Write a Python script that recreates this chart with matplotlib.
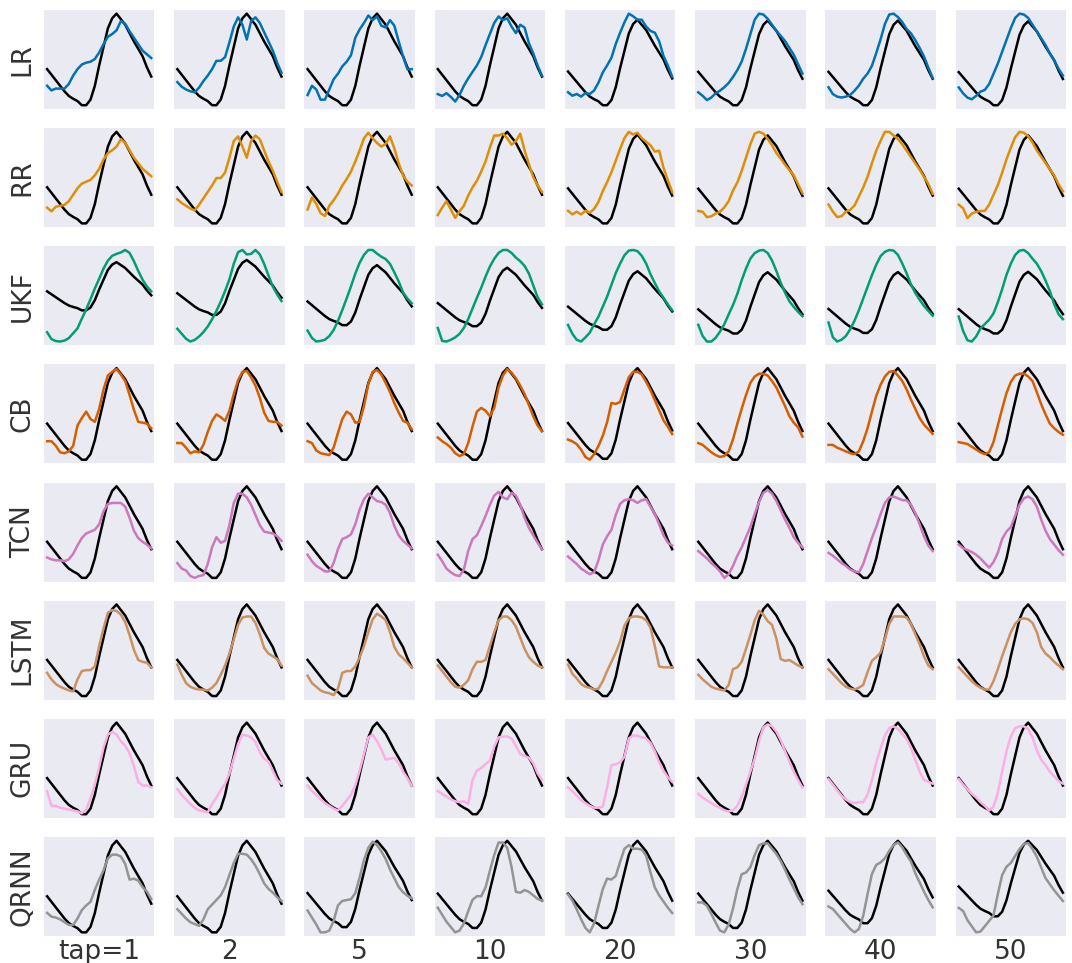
import matplotlib
matplotlib.use("Agg")
import matplotlib.pyplot as plt
import numpy as np

# ground truth waveform (same for every panel)
truth = [0.40, 0.34, 0.28, 0.22, 0.16, 0.11, 0.08, 0.055, 0.01, 0.01, 0.07, 0.22, 0.44,
         0.64, 0.84, 0.95, 1.00, 0.94, 0.88, 0.79, 0.70, 0.62, 0.54, 0.42, 0.32]

models = ["LR", "RR", "UKF", "CB", "TCN", "LSTM", "GRU", "QRNN"]
taps = ["tap=1", "2", "5", "10", "20", "30", "40", "50"]
colors = ["#0173b2", "#de8f05", "#029e73", "#d55e00",
          "#cc78bc", "#ca9161", "#fbafe4", "#949494"]

# predictions, one list per tap
lr = [
    [0.22, 0.17, 0.19, 0.19, 0.19, 0.24, 0.33, 0.40, 0.45, 0.47, 0.48, 0.51, 0.58, 0.67, 0.75, 0.78, 0.82, 0.92, 0.89, 0.81, 0.74, 0.67, 0.60, 0.56, 0.52],
    [0.26, 0.21, 0.18, 0.16, 0.15, 0.20, 0.27, 0.33, 0.40, 0.49, 0.49, 0.53, 0.69, 0.86, 0.96, 0.88, 0.72, 0.92, 0.96, 0.90, 0.80, 0.70, 0.60, 0.47, 0.36],
    [0.12, 0.22, 0.18, 0.07, 0.07, 0.18, 0.29, 0.35, 0.43, 0.48, 0.55, 0.74, 0.83, 0.90, 0.98, 0.93, 0.97, 0.87, 0.85, 0.93, 0.87, 0.70, 0.54, 0.40, 0.40],
    [0.13, 0.11, 0.14, 0.10, 0.05, 0.12, 0.22, 0.30, 0.37, 0.44, 0.53, 0.66, 0.78, 0.90, 0.97, 0.93, 0.95, 0.86, 0.79, 0.88, 0.85, 0.68, 0.57, 0.44, 0.33],
    [0.16, 0.12, 0.14, 0.11, 0.15, 0.14, 0.18, 0.27, 0.39, 0.47, 0.56, 0.72, 0.85, 0.97, 1.07, 1.04, 1.00, 1.00, 0.92, 0.87, 0.85, 0.75, 0.58, 0.47, 0.34],
    [0.16, 0.12, 0.07, 0.10, 0.15, 0.18, 0.22, 0.27, 0.34, 0.42, 0.52, 0.67, 0.84, 1.01, 1.08, 1.07, 1.02, 0.95, 0.88, 0.82, 0.76, 0.68, 0.60, 0.49, 0.38],
    [0.22, 0.14, 0.11, 0.10, 0.11, 0.13, 0.18, 0.24, 0.32, 0.38, 0.47, 0.62, 0.78, 0.96, 1.07, 1.08, 1.04, 0.98, 0.90, 0.85, 0.77, 0.68, 0.58, 0.45, 0.33],
    [0.22, 0.15, 0.10, 0.08, 0.12, 0.17, 0.19, 0.26, 0.38, 0.50, 0.64, 0.78, 0.92, 1.04, 1.09, 1.08, 1.04, 0.96, 0.88, 0.80, 0.72, 0.62, 0.54, 0.44, 0.36],
]
rr = [
    [0.18, 0.14, 0.19, 0.20, 0.21, 0.25, 0.32, 0.39, 0.44, 0.46, 0.48, 0.53, 0.60, 0.70, 0.77, 0.80, 0.84, 0.92, 0.88, 0.80, 0.72, 0.66, 0.60, 0.56, 0.52],
    [0.27, 0.23, 0.20, 0.17, 0.15, 0.21, 0.28, 0.35, 0.42, 0.50, 0.50, 0.56, 0.72, 0.90, 0.95, 0.84, 0.72, 0.90, 0.96, 0.92, 0.80, 0.68, 0.58, 0.46, 0.35],
    [0.16, 0.29, 0.22, 0.12, 0.09, 0.20, 0.26, 0.33, 0.42, 0.49, 0.57, 0.68, 0.80, 0.93, 0.99, 0.93, 0.88, 0.84, 0.87, 0.95, 0.82, 0.66, 0.53, 0.46, 0.42],
    [0.10, 0.18, 0.25, 0.16, 0.07, 0.14, 0.20, 0.31, 0.40, 0.47, 0.57, 0.68, 0.83, 0.96, 0.96, 0.98, 0.93, 0.86, 0.90, 0.98, 0.80, 0.65, 0.51, 0.42, 0.35],
    [0.15, 0.11, 0.14, 0.11, 0.15, 0.13, 0.17, 0.25, 0.37, 0.47, 0.58, 0.71, 0.84, 0.96, 1.03, 1.00, 1.02, 0.96, 0.92, 0.88, 0.81, 0.82, 0.63, 0.49, 0.36],
    [0.15, 0.14, 0.08, 0.09, 0.12, 0.14, 0.19, 0.26, 0.38, 0.47, 0.60, 0.75, 0.90, 1.02, 1.04, 1.02, 0.96, 0.89, 0.80, 0.74, 0.67, 0.61, 0.55, 0.45, 0.35],
    [0.22, 0.14, 0.08, 0.09, 0.14, 0.16, 0.21, 0.31, 0.41, 0.53, 0.68, 0.82, 0.93, 1.03, 1.03, 0.99, 0.95, 0.89, 0.82, 0.75, 0.68, 0.61, 0.53, 0.45, 0.34],
    [0.22, 0.18, 0.07, 0.12, 0.14, 0.15, 0.15, 0.22, 0.33, 0.44, 0.58, 0.73, 0.86, 0.98, 1.04, 1.03, 0.99, 0.92, 0.83, 0.76, 0.69, 0.62, 0.55, 0.45, 0.37],
]
ukf = [
    [-0.44, -0.58, -0.62, -0.63, -0.61, -0.56, -0.46, -0.36, -0.16, 0.03, 0.24, 0.46, 0.66, 0.87, 1.03, 1.13, 1.17, 1.20, 1.25, 1.19, 1.02, 0.82, 0.64, 0.50, 0.40],
    [-0.24, -0.33, -0.42, -0.47, -0.44, -0.38, -0.30, -0.20, -0.07, 0.08, 0.25, 0.44, 0.65, 0.93, 1.14, 1.18, 1.10, 1.11, 1.18, 1.10, 0.93, 0.72, 0.52, 0.38, 0.26],
    [-0.08, -0.20, -0.26, -0.25, -0.23, -0.17, -0.07, 0.08, 0.26, 0.45, 0.65, 0.86, 1.04, 1.17, 1.25, 1.25, 1.19, 1.14, 1.10, 1.02, 0.88, 0.73, 0.55, 0.45, 0.37],
    [-0.02, -0.24, -0.25, -0.22, -0.18, -0.12, -0.02, 0.13, 0.31, 0.49, 0.66, 0.85, 1.02, 1.15, 1.25, 1.30, 1.30, 1.25, 1.17, 1.11, 1.03, 0.90, 0.70, 0.50, 0.38],
    [0.09, -0.06, -0.16, -0.19, -0.12, -0.04, 0.10, 0.23, 0.40, 0.57, 0.77, 0.97, 1.13, 1.27, 1.35, 1.36, 1.34, 1.26, 1.13, 0.95, 0.80, 0.66, 0.55, 0.44, 0.34],
    [0.15, -0.03, -0.12, -0.12, -0.06, 0.04, 0.16, 0.32, 0.47, 0.65, 0.87, 1.06, 1.22, 1.31, 1.35, 1.36, 1.31, 1.19, 1.02, 0.83, 0.67, 0.53, 0.44, 0.36, 0.29],
    [0.18, -0.06, -0.13, -0.10, -0.04, 0.07, 0.21, 0.38, 0.57, 0.76, 0.95, 1.12, 1.26, 1.33, 1.36, 1.35, 1.28, 1.14, 0.98, 0.80, 0.66, 0.55, 0.45, 0.37, 0.29],
    [0.28, 0.05, -0.10, -0.12, -0.04, 0.09, 0.16, 0.23, 0.33, 0.51, 0.72, 0.95, 1.13, 1.27, 1.34, 1.35, 1.30, 1.21, 1.13, 1.01, 0.86, 0.69, 0.48, 0.32, 0.24],
]
cb = [
    [0.21, 0.21, 0.16, 0.09, 0.08, 0.10, 0.16, 0.38, 0.46, 0.53, 0.45, 0.42, 0.56, 0.77, 0.92, 0.96, 0.99, 0.93, 0.86, 0.71, 0.55, 0.42, 0.41, 0.40, 0.35],
    [0.19, 0.19, 0.14, 0.08, 0.10, 0.09, 0.17, 0.31, 0.43, 0.50, 0.47, 0.43, 0.54, 0.72, 0.87, 0.96, 0.97, 0.90, 0.81, 0.68, 0.52, 0.43, 0.42, 0.42, 0.38],
    [0.21, 0.19, 0.11, 0.08, 0.07, 0.06, 0.14, 0.30, 0.45, 0.53, 0.50, 0.41, 0.42, 0.59, 0.83, 0.96, 0.98, 0.93, 0.84, 0.74, 0.62, 0.52, 0.43, 0.41, 0.34],
    [0.25, 0.21, 0.18, 0.14, 0.08, 0.05, 0.07, 0.19, 0.37, 0.53, 0.57, 0.54, 0.48, 0.57, 0.79, 0.92, 0.99, 0.95, 0.89, 0.81, 0.72, 0.60, 0.48, 0.38, 0.32],
    [0.22, 0.20, 0.17, 0.11, 0.03, 0.00, 0.06, 0.15, 0.26, 0.41, 0.62, 0.61, 0.63, 0.77, 0.90, 0.96, 0.96, 0.93, 0.85, 0.76, 0.65, 0.54, 0.43, 0.36, 0.28],
    [0.19, 0.17, 0.13, 0.09, 0.06, 0.04, 0.05, 0.10, 0.23, 0.40, 0.56, 0.71, 0.84, 0.91, 0.94, 0.94, 0.92, 0.86, 0.79, 0.69, 0.59, 0.48, 0.41, 0.36, 0.26],
    [0.17, 0.17, 0.14, 0.12, 0.10, 0.08, 0.07, 0.10, 0.21, 0.35, 0.53, 0.70, 0.82, 0.91, 0.96, 0.97, 0.92, 0.86, 0.77, 0.66, 0.56, 0.46, 0.39, 0.34, 0.29],
    [0.20, 0.19, 0.18, 0.15, 0.12, 0.09, 0.07, 0.09, 0.20, 0.38, 0.56, 0.73, 0.85, 0.92, 0.94, 0.94, 0.91, 0.86, 0.74, 0.61, 0.50, 0.40, 0.35, 0.31, 0.28],
]
tcn = [
    [0.23, 0.21, 0.20, 0.20, 0.19, 0.21, 0.27, 0.36, 0.44, 0.49, 0.51, 0.53, 0.59, 0.73, 0.81, 0.82, 0.82, 0.82, 0.78, 0.66, 0.52, 0.44, 0.40, 0.37, 0.33],
    [0.17, 0.11, 0.09, 0.03, 0.01, 0.03, 0.04, 0.16, 0.34, 0.45, 0.39, 0.41, 0.58, 0.82, 0.92, 0.92, 0.88, 0.80, 0.69, 0.58, 0.51, 0.50, 0.49, 0.46, 0.41],
    [0.26, 0.19, 0.14, 0.11, 0.08, 0.08, 0.17, 0.32, 0.43, 0.45, 0.48, 0.59, 0.75, 0.86, 0.92, 0.88, 0.84, 0.83, 0.80, 0.71, 0.57, 0.47, 0.41, 0.37, 0.33],
    [0.26, 0.19, 0.11, 0.07, 0.04, 0.03, 0.10, 0.30, 0.43, 0.47, 0.57, 0.68, 0.80, 0.90, 0.94, 0.88, 0.86, 0.93, 0.90, 0.80, 0.66, 0.55, 0.47, 0.39, 0.32],
    [0.24, 0.20, 0.16, 0.11, 0.08, 0.05, 0.07, 0.20, 0.37, 0.46, 0.53, 0.69, 0.81, 0.85, 0.86, 0.85, 0.82, 0.85, 0.86, 0.78, 0.70, 0.59, 0.47, 0.39, 0.36],
    [0.30, 0.26, 0.22, 0.17, 0.13, 0.08, 0.01, 0.05, 0.14, 0.25, 0.34, 0.45, 0.56, 0.70, 0.83, 0.93, 0.96, 0.92, 0.84, 0.74, 0.64, 0.55, 0.45, 0.39, 0.34],
    [0.28, 0.25, 0.21, 0.17, 0.14, 0.10, 0.08, 0.07, 0.16, 0.30, 0.44, 0.56, 0.70, 0.82, 0.88, 0.89, 0.87, 0.85, 0.85, 0.80, 0.71, 0.59, 0.46, 0.36, 0.30],
    [0.37, 0.33, 0.31, 0.29, 0.26, 0.22, 0.17, 0.12, 0.18, 0.28, 0.43, 0.51, 0.56, 0.68, 0.80, 0.87, 0.89, 0.86, 0.78, 0.64, 0.52, 0.43, 0.37, 0.31, 0.26],
]
lstm = [
    [0.26, 0.19, 0.14, 0.11, 0.09, 0.07, 0.06, 0.19, 0.28, 0.29, 0.29, 0.33, 0.55, 0.74, 0.91, 0.94, 0.93, 0.89, 0.81, 0.67, 0.51, 0.40, 0.38, 0.37, 0.32],
    [0.35, 0.24, 0.15, 0.11, 0.09, 0.08, 0.08, 0.07, 0.10, 0.15, 0.24, 0.34, 0.47, 0.62, 0.78, 0.86, 0.87, 0.87, 0.80, 0.68, 0.53, 0.47, 0.44, 0.41, 0.34],
    [0.23, 0.15, 0.11, 0.07, 0.05, 0.04, 0.02, 0.09, 0.26, 0.28, 0.28, 0.33, 0.43, 0.55, 0.70, 0.84, 0.90, 0.87, 0.83, 0.70, 0.54, 0.46, 0.42, 0.37, 0.32],
    [0.34, 0.28, 0.22, 0.16, 0.11, 0.10, 0.13, 0.18, 0.30, 0.38, 0.38, 0.40, 0.55, 0.70, 0.83, 0.87, 0.87, 0.83, 0.76, 0.64, 0.52, 0.43, 0.38, 0.34, 0.32],
    [0.35, 0.25, 0.20, 0.14, 0.11, 0.10, 0.08, 0.09, 0.17, 0.28, 0.38, 0.48, 0.60, 0.77, 0.85, 0.87, 0.87, 0.86, 0.83, 0.75, 0.55, 0.33, 0.32, 0.32, 0.32],
    [0.24, 0.19, 0.15, 0.11, 0.09, 0.08, 0.07, 0.13, 0.30, 0.32, 0.38, 0.52, 0.67, 0.83, 0.93, 0.89, 0.82, 0.78, 0.63, 0.41, 0.39, 0.40, 0.37, 0.34, 0.32],
    [0.30, 0.25, 0.20, 0.15, 0.11, 0.09, 0.08, 0.10, 0.13, 0.27, 0.39, 0.43, 0.48, 0.63, 0.79, 0.87, 0.87, 0.87, 0.86, 0.79, 0.68, 0.57, 0.44, 0.34, 0.30],
    [0.32, 0.27, 0.22, 0.17, 0.13, 0.10, 0.08, 0.08, 0.17, 0.30, 0.44, 0.57, 0.70, 0.79, 0.84, 0.85, 0.84, 0.80, 0.70, 0.54, 0.47, 0.43, 0.38, 0.34, 0.30],
]
gru = [
    [0.26, 0.10, 0.10, 0.08, 0.07, 0.06, 0.05, 0.04, 0.02, 0.06, 0.18, 0.33, 0.52, 0.73, 0.87, 0.90, 0.87, 0.80, 0.75, 0.67, 0.53, 0.36, 0.32, 0.32, 0.30],
    [0.28, 0.22, 0.17, 0.12, 0.08, 0.05, 0.04, 0.03, 0.12, 0.19, 0.27, 0.34, 0.45, 0.61, 0.77, 0.87, 0.86, 0.84, 0.79, 0.68, 0.61, 0.58, 0.48, 0.38, 0.34],
    [0.32, 0.26, 0.22, 0.17, 0.13, 0.10, 0.07, 0.05, 0.10, 0.16, 0.22, 0.32, 0.48, 0.66, 0.84, 0.87, 0.80, 0.71, 0.60, 0.61, 0.62, 0.56, 0.47, 0.40, 0.32],
    [0.26, 0.23, 0.20, 0.17, 0.15, 0.14, 0.15, 0.12, 0.38, 0.48, 0.51, 0.55, 0.59, 0.74, 0.84, 0.85, 0.85, 0.83, 0.75, 0.66, 0.64, 0.62, 0.56, 0.45, 0.38],
    [0.30, 0.26, 0.21, 0.16, 0.13, 0.10, 0.08, 0.08, 0.09, 0.30, 0.54, 0.55, 0.57, 0.63, 0.83, 0.86, 0.86, 0.84, 0.83, 0.78, 0.69, 0.57, 0.48, 0.41, 0.36],
    [0.23, 0.19, 0.16, 0.13, 0.10, 0.08, 0.05, 0.04, 0.05, 0.10, 0.20, 0.33, 0.47, 0.61, 0.80, 0.95, 0.98, 0.96, 0.90, 0.81, 0.69, 0.58, 0.47, 0.38, 0.30],
    [0.39, 0.33, 0.27, 0.21, 0.17, 0.14, 0.13, 0.14, 0.14, 0.22, 0.38, 0.57, 0.72, 0.86, 0.94, 0.96, 0.93, 0.88, 0.82, 0.73, 0.60, 0.47, 0.38, 0.36, 0.34],
    [0.39, 0.33, 0.28, 0.23, 0.19, 0.14, 0.10, 0.05, 0.09, 0.24, 0.47, 0.69, 0.85, 0.94, 0.96, 0.96, 0.93, 0.84, 0.70, 0.60, 0.54, 0.47, 0.42, 0.37, 0.34],
]
qrnn = [
    [0.22, 0.18, 0.17, 0.15, 0.12, 0.09, 0.09, 0.16, 0.25, 0.30, 0.34, 0.47, 0.58, 0.68, 0.81, 0.85, 0.85, 0.83, 0.75, 0.58, 0.59, 0.57, 0.50, 0.45, 0.37],
    [0.26, 0.21, 0.16, 0.12, 0.10, 0.08, 0.15, 0.26, 0.31, 0.36, 0.41, 0.50, 0.63, 0.76, 0.86, 0.86, 0.85, 0.80, 0.73, 0.64, 0.54, 0.48, 0.44, 0.39, 0.35],
    [0.20, 0.12, 0.04, -0.05, -0.05, -0.03, 0.08, 0.26, 0.31, 0.32, 0.33, 0.40, 0.58, 0.78, 0.92, 0.99, 0.95, 0.88, 0.79, 0.67, 0.57, 0.47, 0.41, 0.37, 0.34],
    [0.24, 0.16, 0.08, 0.02, -0.04, -0.02, 0.06, 0.20, 0.33, 0.37, 0.37, 0.47, 0.66, 0.84, 0.98, 0.98, 0.92, 0.70, 0.42, 0.41, 0.44, 0.42, 0.38, 0.34, 0.32],
    [0.39, 0.32, 0.22, 0.11, 0.01, -0.04, 0.06, 0.26, 0.45, 0.57, 0.56, 0.60, 0.76, 0.91, 0.95, 0.91, 0.91, 0.90, 0.83, 0.64, 0.47, 0.38, 0.31, 0.24, 0.18],
    [0.30, 0.30, 0.26, 0.17, 0.07, -0.02, -0.04, 0.05, 0.23, 0.45, 0.62, 0.64, 0.70, 0.84, 0.95, 0.97, 0.97, 0.91, 0.85, 0.77, 0.67, 0.56, 0.46, 0.36, 0.28],
    [0.21, 0.18, 0.12, 0.06, 0.00, -0.06, -0.10, -0.06, 0.10, 0.36, 0.60, 0.71, 0.74, 0.79, 0.88, 0.95, 0.98, 0.92, 0.83, 0.75, 0.61, 0.50, 0.39, 0.29, 0.20],
    [0.12, 0.08, -0.04, -0.12, -0.20, -0.19, -0.12, -0.05, 0.02, 0.30, 0.55, 0.66, 0.71, 0.80, 0.89, 0.96, 0.97, 0.89, 0.79, 0.65, 0.51, 0.43, 0.35, 0.28, 0.21],
]

preds = [lr, rr, ukf, cb, tcn, lstm, gru, qrnn]
t = np.arange(len(truth))

fig, axes = plt.subplots(8, 8, figsize=(10.72, 9.63), dpi=100)
fig.subplots_adjust(left=44/1072, right=1066/1072, top=1 - 10/963, bottom=1 - 936/963,
                    wspace=0.18, hspace=0.195)

for i, (name, color) in enumerate(zip(models, colors)):
    for j in range(len(taps)):
        ax = axes[i, j]
        ax.set_facecolor("#eaeaf2")
        ax.plot(t, truth, color="black", lw=1.8)
        ax.plot(t, preds[i][j], color=color, lw=1.8)
        ax.margins(x=0.03, y=0.04)
        ax.set_xticks([])
        ax.set_yticks([])
        for s in ax.spines.values():
            s.set_visible(False)
        if j == 0:
            ax.set_ylabel(name, fontsize=19, color="0.2", labelpad=6)
        if i == len(models) - 1:
            ax.set_xlabel(taps[j], fontsize=19, color="0.2", labelpad=2)

fig.savefig("out.png")
